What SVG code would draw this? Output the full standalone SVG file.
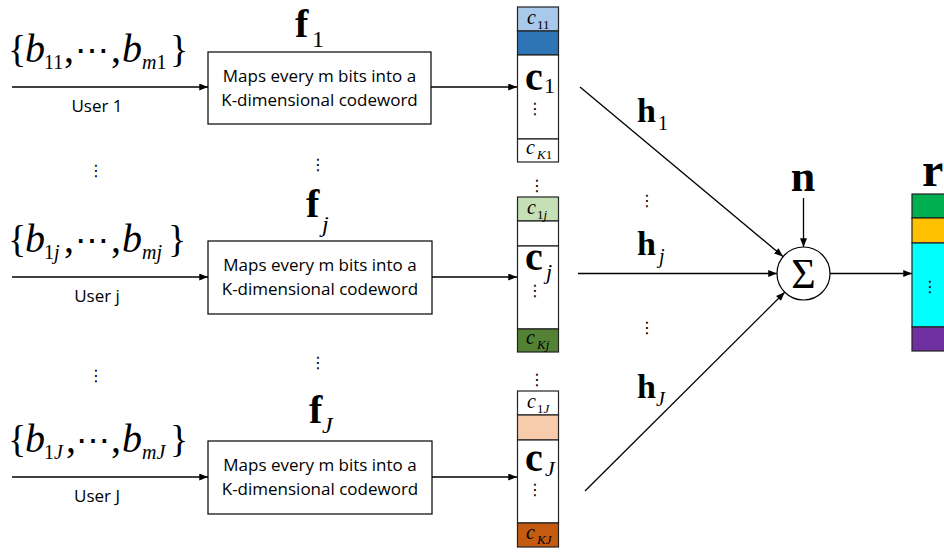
<svg xmlns="http://www.w3.org/2000/svg" width="944" height="552" viewBox="0 0 944 552">
<style>
.m{font-family:"Liberation Serif","Times New Roman",serif;fill:#000}
.it{font-style:italic}
.bd{font-weight:bold}
.big{font-size:40px}
.br{font-size:38px}
.sub{font-size:20px}
.sans{font-family:"Open Sans","Liberation Sans",sans-serif;font-size:17px;fill:#000}
.dots{font-family:"DejaVu Sans",sans-serif;font-size:16px;fill:#000;text-anchor:middle}
.box{fill:#fff;stroke:#000;stroke-width:1.2}
.cell{stroke:#222;stroke-width:1.2}
.ln{stroke:#000;stroke-width:1.3;fill:none}
</style>
<defs>
<marker id="ah" viewBox="0 0 10 8" refX="10" refY="4" markerWidth="9" markerHeight="7" markerUnits="userSpaceOnUse" orient="auto">
<path d="M0,0 L10,4 L0,8 z" fill="#000"/>
</marker>
</defs>
<rect width="944" height="552" fill="#fff"/>

<g id="connectors">
<line class="ln" x1="12" y1="87" x2="208" y2="87" marker-end="url(#ah)"/>
<line class="ln" x1="12" y1="277" x2="208" y2="277" marker-end="url(#ah)"/>
<line class="ln" x1="12" y1="477" x2="208" y2="477" marker-end="url(#ah)"/>
<line class="ln" x1="431" y1="87" x2="517" y2="87" marker-end="url(#ah)"/>
<line class="ln" x1="432" y1="277" x2="517" y2="277" marker-end="url(#ah)"/>
<line class="ln" x1="432" y1="477" x2="517" y2="477" marker-end="url(#ah)"/>
<line class="ln" x1="580" y1="87" x2="783" y2="256.5" marker-end="url(#ah)"/>
<line class="ln" x1="578" y1="273.5" x2="777" y2="273.5" marker-end="url(#ah)"/>
<line class="ln" x1="585" y1="491" x2="784.7" y2="292.2" marker-end="url(#ah)"/>
<line class="ln" x1="803.5" y1="198" x2="803.5" y2="247" marker-end="url(#ah)"/>
<line class="ln" x1="830" y1="273.5" x2="912" y2="273.5" marker-end="url(#ah)"/>
</g>

<g id="input1">
<text class="m br" x="8" y="62">{</text>
<text class="m big it" x="25" y="62">b</text>
<text class="m sub" x="44" y="69">11</text>
<text class="m big" x="64" y="62">,</text>
<text class="m" x="75" y="62" font-size="34">⋯</text>
<text class="m big" x="111" y="62">,</text>
<text class="m big it" x="122" y="62">b</text>
<text class="m sub" x="142" y="69"><tspan class="it">m</tspan>1</text>
<text class="m br" x="170" y="62">}</text>
<text class="sans" x="97" y="112" text-anchor="middle" font-size="15">User 1</text>
</g>
<g id="inputj">
<text class="m br" x="8" y="252">{</text>
<text class="m big it" x="25" y="252">b</text>
<text class="m sub" x="44" y="259">1<tspan class="it">j</tspan></text>
<text class="m big" x="64" y="252">,</text>
<text class="m" x="75" y="252" font-size="34">⋯</text>
<text class="m big" x="111" y="252">,</text>
<text class="m big it" x="122" y="252">b</text>
<text class="m sub it" x="142" y="259">mj</text>
<text class="m br" x="168" y="252">}</text>
<text class="sans" x="97" y="302" text-anchor="middle" font-size="15">User j</text>
</g>
<g id="inputJ">
<text class="m br" x="8" y="452">{</text>
<text class="m big it" x="25" y="452">b</text>
<text class="m sub" x="44" y="459">1<tspan class="it">J</tspan></text>
<text class="m big" x="66" y="452">,</text>
<text class="m" x="76" y="452" font-size="34">⋯</text>
<text class="m big" x="111" y="452">,</text>
<text class="m big it" x="122" y="452">b</text>
<text class="m sub it" x="142" y="459">mJ</text>
<text class="m br" x="170" y="452">}</text>
<text class="sans" x="97" y="502" text-anchor="middle" font-size="15">User J</text>
</g>

<g id="vdots">
<text class="dots" x="96" y="176">⋮</text>
<text class="dots" x="318" y="170">⋮</text>
<text class="dots" x="96" y="381">⋮</text>
<text class="dots" x="318" y="368">⋮</text>
<text class="dots" x="537" y="191">⋮</text>
<text class="dots" x="537" y="385">⋮</text>
<text class="dots" x="647" y="206">⋮</text>
<text class="dots" x="647" y="333">⋮</text>
</g>

<g id="f1">
<rect class="box" x="208" y="52" width="223" height="72"/>
<text class="sans" x="319.5" y="82" text-anchor="middle">Maps every m bits into a</text>
<text class="sans" x="319.5" y="106" text-anchor="middle">K-dimensional codeword</text>
<text class="m big bd" x="295" y="37">f</text>
<text class="m" x="312" y="47" font-size="24">1</text>
</g>
<g id="fj">
<rect class="box" x="208" y="241" width="224" height="73"/>
<text class="sans" x="320" y="271" text-anchor="middle">Maps every m bits into a</text>
<text class="sans" x="320" y="295" text-anchor="middle">K-dimensional codeword</text>
<text class="m big bd" x="306" y="217">f</text>
<text class="m it" x="322" y="232" font-size="24">j</text>
</g>
<g id="fJ">
<rect class="box" x="208" y="441" width="224" height="73"/>
<text class="sans" x="320" y="471" text-anchor="middle">Maps every m bits into a</text>
<text class="sans" x="320" y="495" text-anchor="middle">K-dimensional codeword</text>
<text class="m big bd" x="309" y="423">f</text>
<text class="m it" x="322" y="433" font-size="24">J</text>
</g>

<g id="c1">
<rect class="cell" x="517.5" y="7" width="41" height="24" fill="#a9c9ea"/>
<rect class="cell" x="517.5" y="31" width="41" height="24" fill="#2e75b6"/>
<rect class="cell" x="517.5" y="55" width="41" height="84" fill="#fff"/>
<rect class="cell" x="517.5" y="139" width="41" height="23" fill="#fff"/>
<text class="m it" x="527" y="24" font-size="20">c</text>
<text class="m" x="537" y="29" font-size="13">11</text>
<text class="m big bd" x="525" y="90">c</text>
<text class="m" x="544" y="93" font-size="22">1</text>
<text class="dots" x="535" y="114" font-size="14">⋮</text>
<text class="m it" x="526" y="154" font-size="20">c</text>
<text class="m" x="537" y="159" font-size="13"><tspan class="it">K</tspan>1</text>
</g>
<g id="cj">
<rect class="cell" x="517.5" y="197" width="41" height="24" fill="#c5e0b4"/>
<rect class="cell" x="517.5" y="221" width="41" height="25" fill="#fff"/>
<rect class="cell" x="517.5" y="246" width="41" height="83" fill="#fff"/>
<rect class="cell" x="517.5" y="329" width="41" height="23" fill="#548235"/>
<text class="m it" x="527" y="214" font-size="20">c</text>
<text class="m" x="537" y="219" font-size="13">1<tspan class="it">j</tspan></text>
<text class="m big bd" x="525" y="270">c</text>
<text class="m it" x="546" y="279" font-size="22">j</text>
<text class="dots" x="535" y="296" font-size="14">⋮</text>
<text class="m it" x="526" y="344" font-size="20">c</text>
<text class="m it" x="537" y="349" font-size="13">Kj</text>
</g>
<g id="cJ">
<rect class="cell" x="517.5" y="391" width="41" height="24" fill="#fff"/>
<rect class="cell" x="517.5" y="415" width="41" height="25" fill="#f8cbad"/>
<rect class="cell" x="517.5" y="440" width="41" height="83" fill="#fff"/>
<rect class="cell" x="517.5" y="523" width="41" height="24" fill="#c55a11"/>
<text class="m it" x="527" y="408" font-size="20">c</text>
<text class="m" x="537" y="413" font-size="13">1<tspan class="it">J</tspan></text>
<text class="m big bd" x="525" y="471">c</text>
<text class="m it" x="545" y="476" font-size="22">J</text>
<text class="dots" x="535" y="495" font-size="14">⋮</text>
<text class="m it" x="526" y="539" font-size="20">c</text>
<text class="m it" x="537" y="544" font-size="13">KJ</text>
</g>

<g id="h-labels">
<text class="m bd" x="637" y="122" font-size="34">h</text>
<text class="m" x="658" y="130" font-size="20">1</text>
<text class="m bd" x="637" y="255" font-size="34">h</text>
<text class="m it" x="659" y="263" font-size="20">j</text>
<text class="m bd" x="637" y="398" font-size="34">h</text>
<text class="m it" x="656" y="406" font-size="20">J</text>
</g>

<g id="noise">
<text class="m bd" x="803" y="191" font-size="44" text-anchor="middle">n</text>
</g>

<g id="sum">
<circle cx="803.5" cy="273.5" r="26.5" fill="#fff" stroke="#000" stroke-width="1.2"/>
<text class="m" x="803.5" y="288" font-size="42" text-anchor="middle">Σ</text>
</g>

<g id="r">
<text class="m bd" x="922" y="186" font-size="48">r</text>
<rect class="cell" x="912" y="194" width="40" height="24" fill="#00b050"/>
<rect class="cell" x="912" y="218" width="40" height="25" fill="#ffc000"/>
<rect class="cell" x="912" y="243" width="40" height="84" fill="#00ffff"/>
<rect class="cell" x="912" y="327" width="40" height="24" fill="#7030a0"/>
<text class="dots" x="930" y="292" font-size="14">⋮</text>
</g>
</svg>
